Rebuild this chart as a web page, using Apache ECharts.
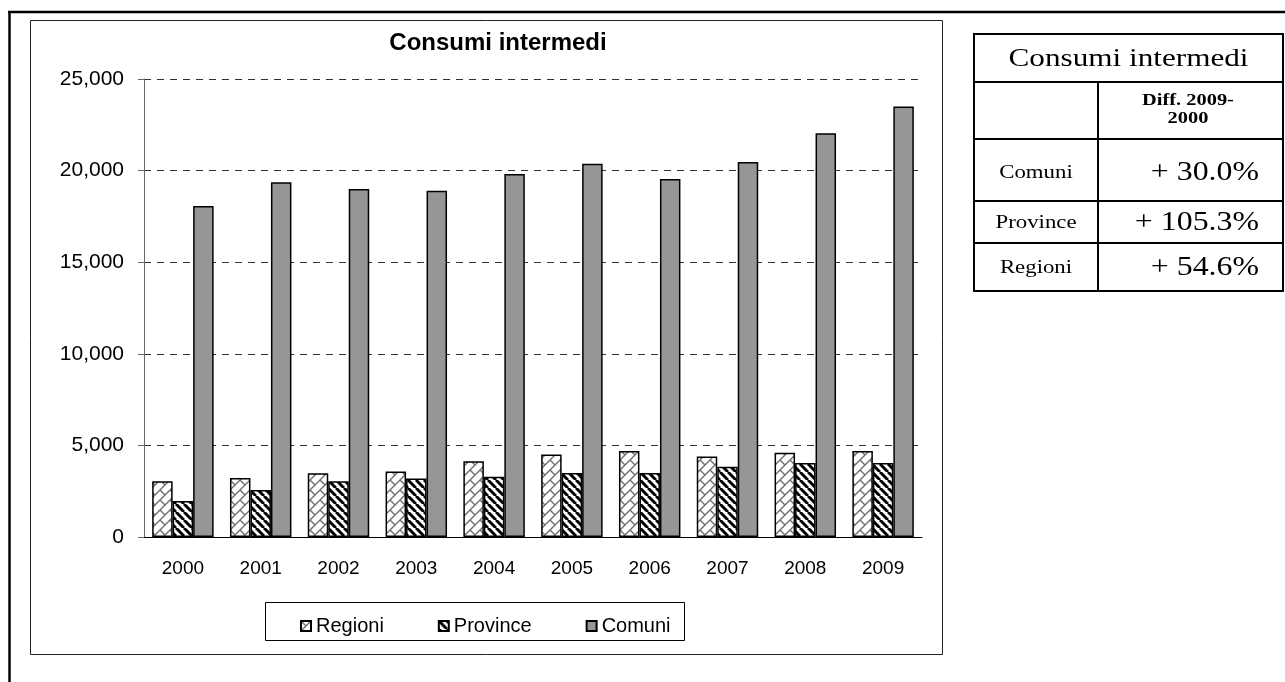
<!DOCTYPE html>
<html>
<head>
<meta charset="utf-8">
<title>Consumi intermedi</title>
<script src="https://cdn.jsdelivr.net/npm/echarts@6/dist/echarts.min.js"></script>
<style>
  html, body { margin: 0; padding: 0; background: #fff; }
  #chart { width: 1285px; height: 682px; }
</style>
</head>
<body>
<div id="chart"></div>
<script>
// Intermediate consumption by level of local government
const years = ['2000', '2001', '2002', '2003', '2004', '2005', '2006', '2007', '2008', '2009'];
const seriesNames = ['Regioni', 'Province', 'Comuni'];
const regioni  = [3040, 3220, 3480, 3570, 4130, 4510, 4700, 4400, 4600, 4700];
const province = [1968, 2570, 3040, 3200, 3290, 3490, 3490, 3840, 4040, 4040];
const comuni   = [18070, 19360, 19000, 18900, 19820, 20380, 19540, 20470, 22040, 23500];

// Side table: change 2009 vs 2000
const tableTitle = 'Consumi intermedi';
const tableHeader = ['Diff. 2009-', '2000'];
const tableRows = ['Comuni', 'Province', 'Regioni'];
const tableDiffs = ['+ 30.0%', '+ 105.3%', '+ 54.6%'];

// Fill tiles
function stripeTile() {
  const c = document.createElement('canvas');
  c.width = 8; c.height = 8;
  const g = c.getContext('2d');
  g.fillStyle = '#fff'; g.fillRect(0, 0, 8, 8);
  g.strokeStyle = '#000'; g.lineWidth = 3;
  for (const o of [-8, 0, 8]) {
    g.beginPath(); g.moveTo(o, 0); g.lineTo(o + 8, 8); g.stroke();
  }
  return c;
}
function brickTile() {
  const s = 10;
  const c = document.createElement('canvas');
  c.width = s; c.height = s;
  const g = c.getContext('2d');
  g.fillStyle = '#fff'; g.fillRect(0, 0, s, s);
  g.strokeStyle = '#707070'; g.lineWidth = 1.4;
  for (const k of [0, s, 2 * s]) {
    g.beginPath(); g.moveTo(k + 1, -1); g.lineTo(k - s - 1, s + 1); g.stroke();
  }
  g.beginPath(); g.moveTo(0, 0); g.lineTo(s / 2, s / 2); g.stroke();
  return c;
}

const sans = '"Liberation Sans", Arial, sans-serif';
const serif = '"Liberation Serif", "Times New Roman", serif';

const border = { borderColor: '#000', borderWidth: 1.5 };
const fills = [
  { image: brickTile(), repeat: 'repeat' },
  { image: stripeTile(), repeat: 'repeat' },
  '#969696'
];
const values = [regioni, province, comuni];

// Table geometry
const tx0 = 974, tx1 = 1283, txm = 1098;
const ty = [34, 82, 139, 201, 243, 291];
const rowMid = [173, 223, 268];

const graphics = [];
// page frame
graphics.push({ type: 'line', shape: { x1: 8, y1: 12, x2: 1285, y2: 12 }, style: { stroke: '#000', lineWidth: 2.5 } });
graphics.push({ type: 'line', shape: { x1: 9.5, y1: 11, x2: 9.5, y2: 682 }, style: { stroke: '#000', lineWidth: 2.5 } });
// chart frame
graphics.push({ type: 'rect', shape: { x: 30.5, y: 20.5, width: 912, height: 634 }, style: { fill: 'none', stroke: '#222', lineWidth: 1 }, z: -1 });
// title
graphics.push({ type: 'text', x: 498, y: 43, style: { text: 'Consumi intermedi', fontFamily: sans, fontWeight: 'bold', fontSize: 24, fill: '#000', textAlign: 'center', textVerticalAlign: 'middle' } });
// legend box
graphics.push({ type: 'rect', shape: { x: 265.5, y: 602.5, width: 419, height: 38 }, style: { fill: 'none', stroke: '#000', lineWidth: 1 } });

// table lines
graphics.push({ type: 'rect', shape: { x: tx0, y: ty[0], width: tx1 - tx0, height: ty[5] - ty[0] }, style: { fill: 'none', stroke: '#000', lineWidth: 2 } });
for (let i = 1; i < 5; i++) {
  graphics.push({ type: 'line', shape: { x1: tx0, y1: ty[i], x2: tx1, y2: ty[i] }, style: { stroke: '#000', lineWidth: 2 } });
}
graphics.push({ type: 'line', shape: { x1: txm, y1: ty[1], x2: txm, y2: ty[5] }, style: { stroke: '#000', lineWidth: 2 } });

function tableText(x, y, text, size, weight, align, stretch) {
  return { type: 'text', x: x, y: y, scaleX: stretch,
    style: { x: 0, y: 0, text: text, fontFamily: serif, fontSize: size, fontWeight: weight,
      fill: '#000', textAlign: align, textVerticalAlign: 'middle' } };
}
graphics.push(tableText((tx0 + tx1) / 2, 59, tableTitle, 26, 'normal', 'center', 1.2));
graphics.push(tableText(1188, 101, tableHeader[0], 17, 'bold', 'center', 1.2));
graphics.push(tableText(1188, 119, tableHeader[1], 17, 'bold', 'center', 1.2));
tableRows.forEach((name, i) => {
  graphics.push(tableText(1036, rowMid[i], name, 19, 'normal', 'center', 1.2));
  graphics.push(tableText(1259, rowMid[i], tableDiffs[i], 27, 'normal', 'right', 1.18));
});

const option = {
  animation: false,
  backgroundColor: '#fff',
  grid: { left: 144, right: 363, top: 79, bottom: 145 },
  legend: {
    data: seriesNames,
    left: 295, top: 611,
    itemGap: 54, itemWidth: 10, itemHeight: 10,
    icon: 'rect',
    textStyle: { fontFamily: sans, fontSize: 20, color: '#000', lineHeight: 20 },
    selectedMode: false
  },
  xAxis: {
    type: 'category',
    data: years,
    axisLine: { lineStyle: { color: '#000', width: 1 } },
    axisTick: { length: 7, lineStyle: { color: '#000' } },
    axisLabel: { margin: 22, fontFamily: sans, fontSize: 19, color: '#000' }
  },
  yAxis: {
    type: 'value',
    min: 0, max: 25000, interval: 5000,
    axisLine: { show: true, lineStyle: { color: '#666', width: 1 } },
    axisTick: { show: true, length: 6, lineStyle: { color: '#666' } },
    axisLabel: {
      margin: 20, fontFamily: sans, fontSize: 21, color: '#000',
      formatter: v => String(v).replace(/\B(?=(\d{3})+(?!\d))/g, ',')
    },
    splitLine: { lineStyle: { color: '#333', type: [7, 6], width: 1 } }
  },
  series: seriesNames.map((name, i) => ({
    name: name,
    type: 'bar',
    data: values[i],
    barGap: '0%',
    barCategoryGap: '21%',
    itemStyle: Object.assign({ color: fills[i] }, border)
  })),
  graphic: graphics
};

const chart = echarts.init(document.getElementById('chart'), null, { renderer: 'canvas' });
chart.setOption(option);
</script>
</body>
</html>
